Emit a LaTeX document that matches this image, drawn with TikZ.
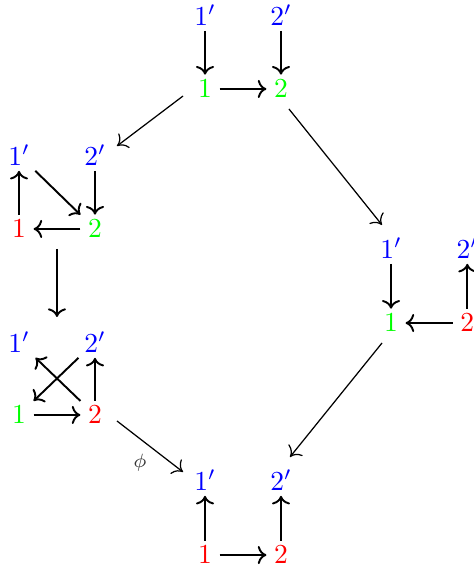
\documentclass[tikz,border=0pt]{standalone}
\usepackage{xcolor}
\usepackage{amsmath,amssymb}
\usepackage{tikz}
\usetikzlibrary{arrows.meta,positioning,calc}

\begin{document}
\begin{tikzpicture}[
  pt/.style={inner xsep=2.6pt,inner ysep=1.8pt},
  map/.style={->,line width=0.7pt},
  long/.style={-{Computer Modern Rightarrow[length=3.4pt,width=6.6pt]},line width=0.45pt}
]
\useasboundingbox (0,0) rectangle (6.045,7.246);

% Top square
\node[pt,blue]  (t1p) at (2.620,7.055) {$1'$};
\node[pt,blue]  (t2p) at (3.591,7.055) {$2'$};
\node[pt,green] (t1)  at (2.620,6.109) {$1$};
\node[pt,green] (t2)  at (3.591,6.109) {$2$};
\draw[map] (t1p) -- (t1);
\draw[map] (t2p) -- (t2);
\draw[map] (t1) -- (t2);

% Upper left square
\node[pt,blue]  (ul1p) at (0.243,5.265) {$1'$};
\node[pt,blue]  (ul2p) at (1.214,5.265) {$2'$};
\node[pt,red]   (ul1)  at (0.243,4.320) {$1$};
\node[pt,green] (ul2)  at (1.214,4.320) {$2$};
\draw[map] (ul1) -- (ul1p);
\draw[map] (ul1p) -- (ul2);
\draw[map] (ul2p) -- (ul2);
\draw[map] (ul2) -- (ul1);

% Right square
\node[pt,blue]  (r1p) at (4.997,4.077) {$1'$};
\node[pt,blue]  (r2p) at (5.972,4.077) {$2'$};
\node[pt,green] (r1)  at (4.997,3.118) {$1$};
\node[pt,red]   (r2)  at (5.972,3.118) {$2$};
\draw[map] (r1p) -- (r1);
\draw[map] (r2) -- (r2p);
\draw[map] (r2) -- (r1);

% Lower left square
\node[pt,blue]  (ll1p) at (0.243,2.876) {$1'$};
\node[pt,blue]  (ll2p) at (1.214,2.876) {$2'$};
\node[pt,green] (ll1)  at (0.243,1.943) {$1$};
\node[pt,red]   (ll2)  at (1.214,1.943) {$2$};
\draw[map] (ll1) -- (ll2);
\draw[map] (ll2) -- (ll2p);
\draw[map] (ll2) -- (ll1p);
\draw[map] (ll2p) -- (ll1);

% Bottom square
\node[pt,blue] (b1p) at (2.620,1.112) {$1'$};
\node[pt,blue] (b2p) at (3.591,1.112) {$2'$};
\node[pt,red]  (b1)  at (2.620,0.153) {$1$};
\node[pt,red]  (b2)  at (3.591,0.153) {$2$};
\draw[map] (b1) -- (b1p);
\draw[map] (b2) -- (b2p);
\draw[map] (b1) -- (b2);

% Moves between squares
\coordinate (aS) at (2.339,6.019);
\coordinate (aE) at (1.495,5.380);
\coordinate (bS) at (3.693,5.853);
\coordinate (bE) at (4.882,4.371);
\coordinate (cS) at (0.728,4.064);
\coordinate (cE) at (0.728,3.195);
\coordinate (dS) at (4.882,2.863);
\coordinate (dE) at (3.706,1.406);
\coordinate (eS) at (1.495,1.866);
\coordinate (eE) at (2.339,1.214);
\draw[long] (aS) -- (aE);
\draw[long] (bS) -- (bE);
\draw[map] (cS) -- (cE);
\draw[long] (dS) -- (dE);
\draw[long] (eS) -- (eE);
\node[black!80,font=\scriptsize] (phi) at (1.789,1.335) {$\phi$};
\end{tikzpicture}
\end{document}
